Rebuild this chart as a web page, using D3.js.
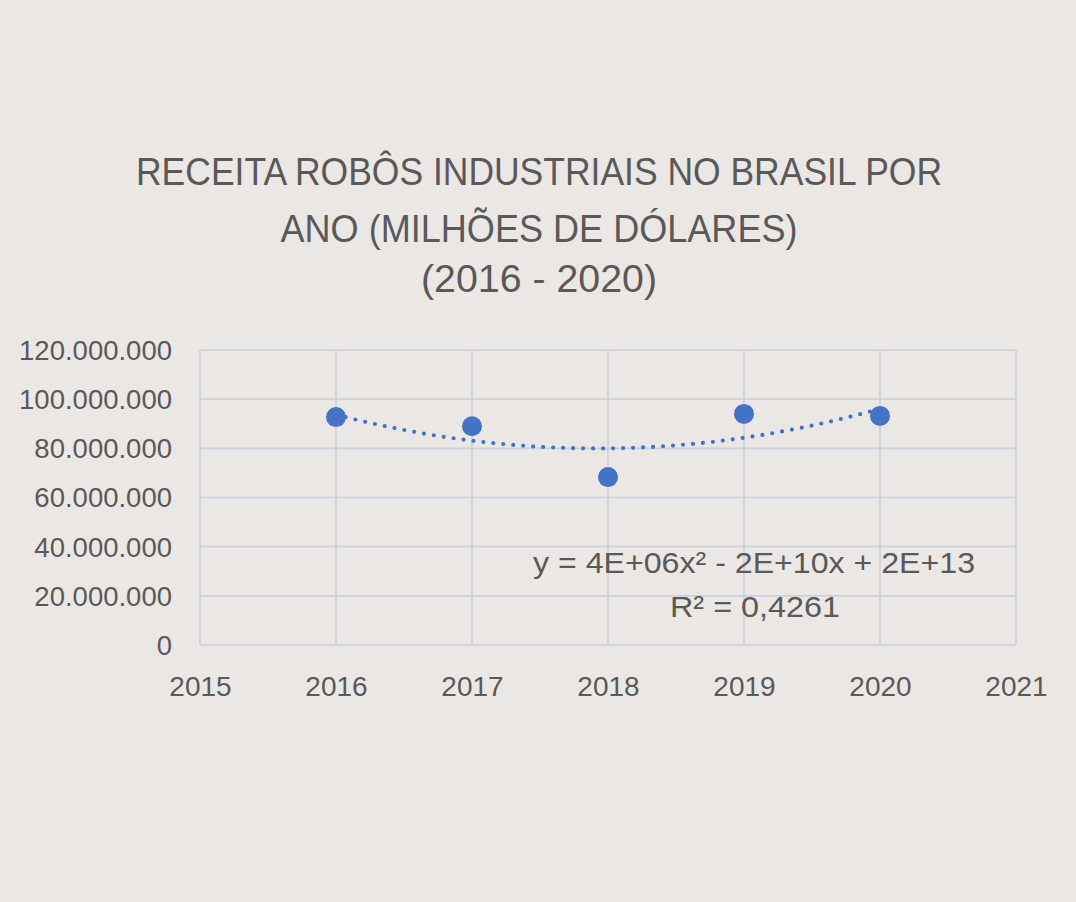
<!DOCTYPE html>
<html>
<head>
<meta charset="utf-8">
<script src="https://cdn.jsdelivr.net/npm/d3@7"></script>
<style>
  html, body { margin: 0; padding: 0; background: #EBE7E4; }
  svg { display: block; }
  text { font-family: "Liberation Sans", Arial, sans-serif; fill: #5B585A; }
</style>
</head>
<body>
<svg id="chart" width="1076" height="902"></svg>
<script>
// ---- data ----
const titleLines = ["RECEITA ROBÔS INDUSTRIAIS NO BRASIL POR", "ANO (MILHÕES DE DÓLARES)", "(2016 - 2020)"];
const years = [2016, 2017, 2018, 2019, 2020];
const revenue = [92700000, 89000000, 68300000, 94000000, 93200000];
const xTicks = [2015, 2016, 2017, 2018, 2019, 2020, 2021];
const yTicks = [0, 20000000, 40000000, 60000000, 80000000, 100000000, 120000000];
const equationText = "y = 4E+06x² - 2E+10x + 2E+13";
const r2Text = "R² = 0,4261";

// ---- layout ----
const svg = d3.select("#chart");
svg.append("rect").attr("width", 1076).attr("height", 902).attr("fill", "#EBE7E4");

const x = d3.scaleLinear().domain([2015, 2021]).range([200, 1016]);
const y = d3.scaleLinear().domain([0, 120000000]).range([645, 350]);

const gridColor = "#C9D1DE";

// title
const titleSpecs = [
  { baseline: 185, width: 806 },
  { baseline: 242, width: 517 },
  { baseline: 292, width: 236 }
];
titleLines.forEach((t, i) => {
  svg.append("text")
    .attr("x", 539).attr("y", titleSpecs[i].baseline)
    .attr("text-anchor", "middle")
    .attr("font-size", 38)
    .attr("textLength", titleSpecs[i].width)
    .attr("lengthAdjust", "spacingAndGlyphs")
    .text(t);
});

// gridlines
const g = svg.append("g");
g.selectAll(".hgrid").data(yTicks).enter().append("line")
  .attr("x1", x(2015)).attr("x2", x(2021))
  .attr("y1", d => y(d)).attr("y2", d => y(d))
  .attr("stroke", gridColor).attr("stroke-width", 1.6);
g.selectAll(".vgrid").data(xTicks).enter().append("line")
  .attr("x1", d => x(d)).attr("x2", d => x(d))
  .attr("y1", y(0)).attr("y2", y(120000000))
  .attr("stroke", gridColor).attr("stroke-width", 1.6);

// y axis labels
const fmt = v => d3.format(",")(v).replace(/,/g, ".");
const yAxis = d3.axisLeft(y).tickValues(yTicks).tickFormat(fmt).tickSize(0).tickPadding(0);
const yg = svg.append("g").attr("transform", "translate(172,0)").call(yAxis);
yg.select(".domain").remove();
yg.selectAll("text").attr("font-size", 27.5).attr("fill", "#5B585A")
  .attr("font-family", "Liberation Sans, Arial, sans-serif").attr("dy", "0.34em").attr("x", 0);

// x axis labels
const xAxis = d3.axisBottom(x).tickValues(xTicks).tickFormat(d3.format("d")).tickSize(0).tickPadding(0);
const xg = svg.append("g").attr("transform", "translate(0,676)").call(xAxis);
xg.select(".domain").remove();
xg.selectAll("text").attr("font-size", 28).attr("fill", "#5B585A")
  .attr("font-family", "Liberation Sans, Arial, sans-serif").attr("dy", "0.71em").attr("y", 0);

// polynomial (order 2) trendline by least squares
const n = years.length;
const xm = d3.mean(years);
const ts = years.map(v => v - xm);
function solve3(A, b) {
  const M = A.map((r, i) => [...r, b[i]]);
  for (let c = 0; c < 3; c++) {
    let p = c;
    for (let r = c + 1; r < 3; r++) if (Math.abs(M[r][c]) > Math.abs(M[p][c])) p = r;
    [M[c], M[p]] = [M[p], M[c]];
    for (let r = 0; r < 3; r++) {
      if (r === c) continue;
      const f = M[r][c] / M[c][c];
      for (let k = c; k < 4; k++) M[r][k] -= f * M[c][k];
    }
  }
  return M.map((r, i) => r[3] / r[i]);
}
const S = k => d3.sum(ts, t => Math.pow(t, k));
const Sy = k => d3.sum(ts.map((t, i) => Math.pow(t, k) * revenue[i]));
const coef = solve3([[S(0), S(1), S(2)], [S(1), S(2), S(3)], [S(2), S(3), S(4)]], [Sy(0), Sy(1), Sy(2)]);
const fit = t => coef[0] + coef[1] * t + coef[2] * t * t;
const trendX = d3.range(years[0], years[n - 1] + 0.0001, 0.02);
const line = d3.line().x(d => x(d)).y(d => y(fit(d - xm))).curve(d3.curveLinear);
svg.append("path").datum(trendX)
  .attr("d", line)
  .attr("fill", "none")
  .attr("stroke", "#4472C4")
  .attr("stroke-width", 4.2)
  .attr("stroke-linecap", "round")
  .attr("stroke-dasharray", "0 10");

// points
svg.selectAll(".pt").data(years).enter().append("circle")
  .attr("cx", d => x(d))
  .attr("cy", (d, i) => y(revenue[i]))
  .attr("r", 10)
  .attr("fill", "#4472C4");

// equation label
svg.append("text").attr("x", 754).attr("y", 573).attr("text-anchor", "middle")
  .attr("font-size", 30).attr("textLength", 442).attr("lengthAdjust", "spacingAndGlyphs")
  .text(equationText);
svg.append("text").attr("x", 755).attr("y", 617).attr("text-anchor", "middle")
  .attr("font-size", 30).attr("textLength", 170).attr("lengthAdjust", "spacingAndGlyphs")
  .text(r2Text);
</script>
</body>
</html>
